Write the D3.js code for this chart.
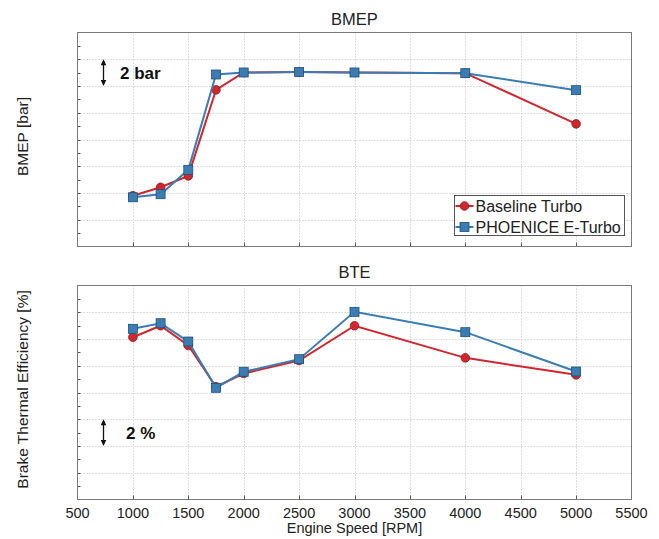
<!DOCTYPE html>
<html>
<head>
<meta charset="utf-8">
<script src="https://cdn.jsdelivr.net/npm/d3@7/dist/d3.min.js"></script>
<style>
  html, body { margin: 0; padding: 0; background: #fff; }
  svg { display: block; font-family: "Liberation Sans", Arial, sans-serif; }
</style>
</head>
<body>
<svg id="chart" width="659" height="539"></svg>
<script>
// ---- data ----
const rpm = [1000, 1250, 1500, 1750, 2000, 2500, 3000, 4000, 5000];
const bmepBaseline = [9.80, 10.43, 11.28, 17.71, 19.01, 19.04, 19.01, 18.96, 15.17];
const bmepETurbo   = [9.68, 9.91, 11.73, 18.86, 19.01, 19.04, 19.01, 18.96, 17.69];
const bteBaseline  = [36.13, 36.99, 35.51, 32.43, 33.42, 34.39, 36.99, 34.59, 33.32];
const bteETurbo    = [36.76, 37.18, 35.81, 32.35, 33.55, 34.49, 38.03, 36.51, 33.57];
const xTicks = [500, 1000, 1500, 2000, 2500, 3000, 3500, 4000, 4500, 5000, 5500];
const seriesNames = ["Baseline Turbo", "PHOENICE E-Turbo"];
const panelTitles = ["BMEP", "BTE"];
const yLabels = ["BMEP [bar]", "Brake Thermal Efficiency [%]"];
const xLabel = "Engine Speed [RPM]";
const bmepDomain = [6, 22];
const bteDomain = [24, 40];
const bmepScaleBar = [18, 20];
const bteScaleBar = [28, 30];
const scaleBarLabels = ["2 bar", "2 %"];

// ---- layout ----
const svg = d3.select("#chart");
const left = 77.5, right = 631.5;
const panels = [
  { top: 32.5, bottom: 246.5, domain: bmepDomain, series: [bmepBaseline, bmepETurbo], title: panelTitles[0], ylab: yLabels[0], bar: bmepScaleBar, barLabel: scaleBarLabels[0], legend: true, xlabels: false },
  { top: 285.5, bottom: 499.5, domain: bteDomain, series: [bteBaseline, bteETurbo], title: panelTitles[1], ylab: yLabels[1], bar: bteScaleBar, barLabel: scaleBarLabels[1], legend: false, xlabels: true }
];
const colors = ["#d1262d", "#3b7db3"];
const strokes = ["#8e1a1e", "#1d4f78"];
const x = d3.scaleLinear().domain([500, 5500]).range([left, right]);
const textColor = "#222";

panels.forEach((p, pi) => {
  const y = d3.scaleLinear().domain(p.domain).range([p.bottom, p.top]);
  const g = svg.append("g");

  // grid (dotted)
  const yMajor = d3.range(p.domain[0] + 2, p.domain[1], 2);
  g.selectAll(".hg").data(yMajor).enter().append("line")
    .attr("x1", left).attr("x2", right)
    .attr("y1", d => Math.round(y(d)) + 0.5).attr("y2", d => Math.round(y(d)) + 0.5)
    .attr("stroke", "#bdbdbd").attr("stroke-width", 1).attr("stroke-dasharray", "1,2");
  const xInner = xTicks.slice(1, -1);
  g.selectAll(".vg").data(xInner).enter().append("line")
    .attr("x1", d => Math.round(x(d)) + 0.5).attr("x2", d => Math.round(x(d)) + 0.5)
    .attr("y1", p.top).attr("y2", p.bottom)
    .attr("stroke", "#bdbdbd").attr("stroke-width", 1).attr("stroke-dasharray", "1,2");

  // axes ticks (inward)
  const yMinor = d3.range(p.domain[0] + 1, p.domain[1], 1);
  g.selectAll(".yt").data(yMinor).enter().append("line")
    .attr("x1", left).attr("x2", left + 3)
    .attr("y1", d => Math.round(y(d)) + 0.5).attr("y2", d => Math.round(y(d)) + 0.5)
    .attr("stroke", "#555").attr("stroke-width", 1);
  g.selectAll(".xt").data(xInner).enter().append("line")
    .attr("x1", d => Math.round(x(d)) + 0.5).attr("x2", d => Math.round(x(d)) + 0.5)
    .attr("y1", p.bottom).attr("y2", p.bottom - 4)
    .attr("stroke", "#555").attr("stroke-width", 1);

  // frame
  g.append("rect").attr("x", left).attr("y", p.top)
    .attr("width", right - left).attr("height", p.bottom - p.top)
    .attr("fill", "none").attr("stroke", "#7a7a7a").attr("stroke-width", 1);

  // x tick labels
  if (p.xlabels) {
    g.selectAll(".xl").data(xTicks).enter().append("text")
      .attr("x", d => x(d)).attr("y", p.bottom + 18)
      .attr("text-anchor", "middle").attr("font-size", 14.5).attr("fill", textColor)
      .text(d => d);
    g.append("text").attr("x", (left + right) / 2).attr("y", p.bottom + 33)
      .attr("text-anchor", "middle").attr("font-size", 14.5).attr("fill", textColor)
      .text(xLabel);
  }

  // title
  g.append("text").attr("x", (left + right) / 2).attr("y", p.top - 8)
    .attr("text-anchor", "middle").attr("font-size", 16.5).attr("fill", textColor)
    .text(p.title);

  // y label
  const cy = (p.top + p.bottom) / 2 - 3;
  g.append("text").attr("transform", `translate(28,${cy}) rotate(-90)`)
    .attr("text-anchor", "middle").attr("font-size", 15.5).attr("fill", textColor)
    .text(p.ylab);

  // scale bar
  const ax = 103.5;
  const y0 = y(p.bar[0]), y1 = y(p.bar[1]);
  g.append("line").attr("x1", ax).attr("x2", ax).attr("y1", y1 + 2).attr("y2", y0 - 2)
    .attr("stroke", "#111").attr("stroke-width", 1.3);
  g.append("path").attr("d", `M${ax},${y1} l-2.8,6 l5.6,0 Z`).attr("fill", "#111");
  g.append("path").attr("d", `M${ax},${y0} l-2.8,-6 l5.6,0 Z`).attr("fill", "#111");
  g.append("text").attr("x", pi === 0 ? 120 : 126).attr("y", (y0 + y1) / 2 + 6)
    .attr("font-size", 17).attr("font-weight", "bold").attr("fill", "#111")
    .text(p.barLabel);

  // series
  const line = d3.line().x((d, i) => x(rpm[i])).y(d => y(d));
  p.series.forEach((vals, si) => {
    g.append("path").datum(vals).attr("d", line)
      .attr("fill", "none").attr("stroke", colors[si]).attr("stroke-width", 2);
    if (si === 0) {
      g.selectAll(".c" + si).data(vals).enter().append("circle")
        .attr("cx", (d, i) => x(rpm[i])).attr("cy", d => y(d)).attr("r", 4.3)
        .attr("fill", colors[si]).attr("stroke", strokes[si]).attr("stroke-width", 0.8);
    } else {
      g.selectAll(".s" + si).data(vals).enter().append("rect")
        .attr("x", (d, i) => x(rpm[i]) - 4.5).attr("y", d => y(d) - 4.5)
        .attr("width", 9).attr("height", 9)
        .attr("fill", colors[si]).attr("stroke", strokes[si]).attr("stroke-width", 0.8);
    }
  });

  // legend
  if (p.legend) {
    const lx = 454.5, ly = 195.5, lw = 170, lh = 40;
    const lg = g.append("g");
    lg.append("rect").attr("x", lx).attr("y", ly).attr("width", lw).attr("height", lh)
      .attr("fill", "#fff").attr("stroke", "#555").attr("stroke-width", 1);
    seriesNames.forEach((name, si) => {
      const ry = ly + 10.5 + si * 21;
      lg.append("line").attr("x1", lx + 1).attr("x2", lx + 19).attr("y1", ry).attr("y2", ry)
        .attr("stroke", colors[si]).attr("stroke-width", 2);
      if (si === 0) {
        lg.append("circle").attr("cx", lx + 10).attr("cy", ry).attr("r", 4.3)
          .attr("fill", colors[si]).attr("stroke", strokes[si]).attr("stroke-width", 0.8);
      } else {
        lg.append("rect").attr("x", lx + 10 - 4.5).attr("y", ry - 4.5).attr("width", 9).attr("height", 9)
          .attr("fill", colors[si]).attr("stroke", strokes[si]).attr("stroke-width", 0.8);
      }
      lg.append("text").attr("x", lx + 21).attr("y", ry + 5.8)
        .attr("font-size", 16).attr("fill", textColor).text(name);
    });
  }
});
</script>
</body>
</html>
